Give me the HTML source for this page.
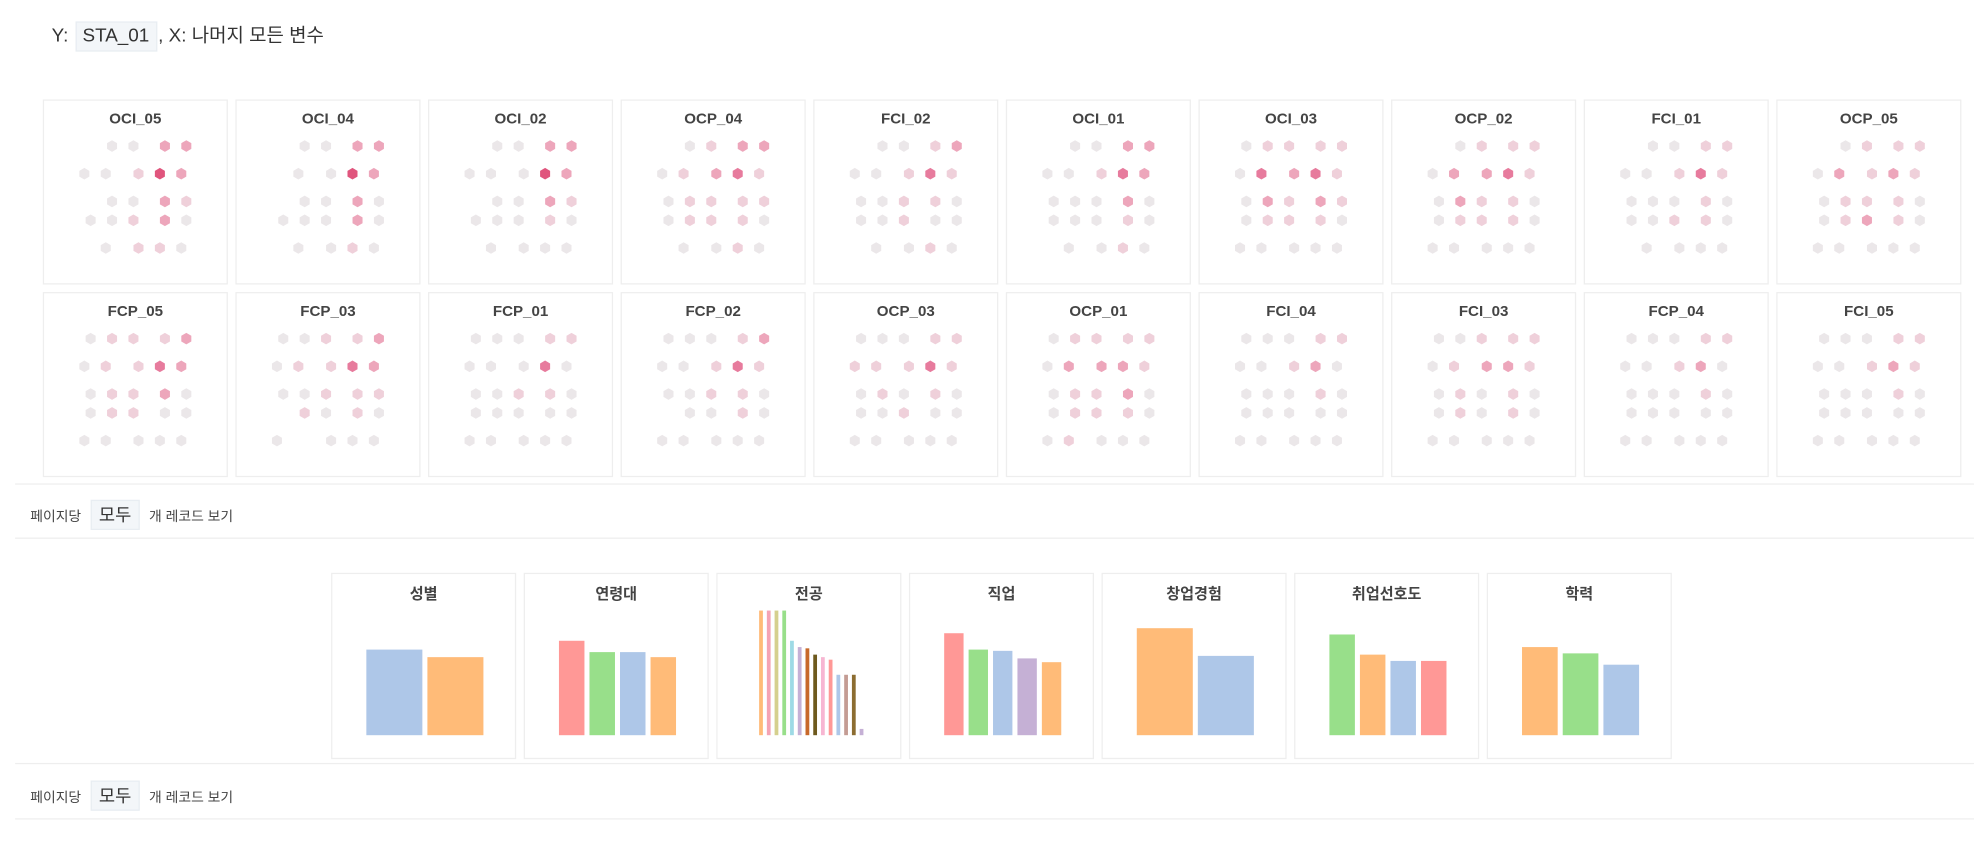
<!DOCTYPE html>
<html><head><meta charset="utf-8">
<style>
html,body{margin:0;padding:0;background:#fff;width:1974px;height:843px;overflow:hidden;}
#wrap{position:absolute;left:0;top:0;width:1568px;height:670px;transform:scale(1.2589);transform-origin:0 0;font-family:"Liberation Sans","Noto Sans CJK KR",sans-serif;color:#333;}
.hdr{position:absolute;left:41px;top:17px;font-size:15px;line-height:22px;white-space:nowrap;}
.tag{display:inline-block;background:#f3f6f9;border:1px solid #e8edf2;padding:0 5px;margin:0 1px;}
.panel{position:absolute;width:147px;height:147px;border:1px solid #eee;box-sizing:border-box;background:#fff;}
.ptitle{position:absolute;left:0;right:0;top:7px;text-align:center;font-size:12px;font-weight:bold;color:#444;}
.line{position:absolute;left:12px;right:0;height:1px;background:#eee;}
.pager{position:absolute;left:24px;font-size:11px;color:#444;white-space:nowrap;}
.pager .box{display:inline-block;background:#f3f6f9;border:1px solid #e8edf2;font-size:14px;padding:1px 6px;margin:0 4px;color:#333;}
svg{position:absolute;left:0;top:0;}
</style></head><body>
<div id="wrap">
<div class="hdr">Y: <span class="tag">STA_01</span>, X: 나머지 모든 변수</div>
<div id="hex"></div>
<div class="line" style="top:384px"></div>
<div class="pager" style="top:397px">페이지당 <span class="box">모두</span> 개 레코드 보기</div>
<div class="line" style="top:427px"></div>
<div id="bars"></div>
<div class="line" style="top:606px"></div>
<div class="pager" style="top:620px">페이지당 <span class="box">모두</span> 개 레코드 보기</div>
<div class="line" style="top:650px"></div>
</div>
<script>
// ---- hexbin data ----
const hexNames = ["OCI_05","OCI_04","OCI_02","OCP_04","FCI_02","OCI_01","OCI_03","OCP_02","FCI_01","OCP_05",
"FCP_05","FCP_03","FCP_01","FCP_02","OCP_03","OCP_01","FCI_04","FCI_03","FCP_04","FCI_05"];
const hexLevels = [
[[0,1,1,3,3],[1,1,2,5,3],[0,1,1,3,2],[1,1,2,3,1],[0,1,2,2,1]],
[[0,1,1,3,3],[0,1,1,5,3],[0,1,1,3,1],[1,1,1,3,1],[0,1,1,2,1]],
[[0,1,1,3,3],[1,1,1,5,3],[0,1,1,3,2],[1,1,1,2,1],[0,1,1,1,1]],
[[0,1,2,3,3],[1,2,3,4,2],[1,2,2,2,2],[1,2,2,2,1],[0,1,1,2,1]],
[[0,1,1,2,3],[1,1,2,4,2],[1,1,2,2,1],[1,1,2,1,1],[0,1,1,2,1]],
[[0,1,1,3,3],[1,1,2,4,3],[1,1,1,3,1],[1,1,1,2,1],[0,1,1,2,1]],
[[1,2,2,2,2],[1,4,3,4,2],[1,3,2,3,2],[1,2,2,2,1],[1,1,1,1,1]],
[[0,1,2,2,2],[1,3,3,4,2],[1,3,2,2,1],[1,2,2,2,1],[1,1,1,1,1]],
[[0,1,1,2,2],[1,1,2,4,2],[1,1,1,2,1],[1,1,2,2,1],[0,1,1,1,1]],
[[0,1,2,2,2],[1,3,2,3,2],[1,2,2,2,1],[1,2,3,2,1],[1,1,1,1,1]],
[[1,2,2,2,3],[1,2,2,4,3],[1,2,2,3,1],[1,2,2,1,1],[1,1,1,1,1]],
[[1,1,2,2,3],[1,2,2,4,3],[1,1,2,2,2],[0,2,1,2,1],[1,0,1,1,1]],
[[1,1,1,2,2],[1,1,1,4,1],[1,1,2,2,1],[1,1,1,1,1],[1,1,1,1,1]],
[[1,1,1,2,3],[1,1,2,4,2],[1,1,2,2,1],[0,1,1,2,1],[1,1,1,1,1]],
[[1,1,1,2,2],[2,2,2,4,2],[1,2,1,2,1],[1,1,2,1,1],[1,1,1,1,1]],
[[1,2,2,2,2],[1,3,3,3,2],[1,2,2,3,1],[1,2,2,2,1],[1,2,1,1,1]],
[[1,1,1,2,2],[1,1,2,3,1],[1,1,1,2,1],[1,1,1,1,1],[1,1,1,1,1]],
[[1,1,2,2,2],[1,2,3,3,2],[1,2,1,2,1],[1,2,1,2,1],[1,1,1,1,1]],
[[1,1,1,2,2],[1,1,2,3,1],[1,1,1,2,1],[1,1,1,1,1],[1,1,1,1,1]],
[[1,1,1,2,2],[1,1,2,3,2],[1,1,1,2,1],[1,1,1,1,1],[1,1,1,1,1]]
];
const levelColors = ["none","#ebe7e9","#efd0da","#eda6bb","#e77b9d","#e0557d"];
const rowY=[36,58,80,95,117];
const colsA=[37,54,71,96,113], colsB=[32,49,75,92,109];
const NS="http://www.w3.org/2000/svg";
function hexPath(cx,cy,r){let p=[];for(let i=0;i<6;i++){const a=Math.PI/3*i+Math.PI/6;p.push((cx+r*Math.cos(a)).toFixed(2)+","+(cy+r*Math.sin(a)).toFixed(2));}return p.join(" ");}
const hex=document.getElementById('hex');
hexNames.forEach((nm,i)=>{
  const d=document.createElement('div');d.className='panel';
  
  
  d.style.left=(34+(i%10)*153)+'px';d.style.top=(i<10?79:232)+'px';
  const t=document.createElement('div');t.className='ptitle';t.textContent=nm;
  
  
  d.appendChild(t);
  const s=document.createElementNS(NS,'svg');s.setAttribute('width',147);s.setAttribute('height',147);
  hexLevels[i].forEach((row,ri)=>{
    const cols=(ri===1||ri===4)?colsB:colsA;
    row.forEach((lv,ci)=>{
      if(!lv)return;
      const p=document.createElementNS(NS,'polygon');
      p.setAttribute('points',hexPath(cols[ci],rowY[ri],4.6));
      p.setAttribute('fill',levelColors[lv]);
      
      
      s.appendChild(p);
    });
  });
  d.appendChild(s);hex.appendChild(d);
});
// ---- bar chart data ----
const barTitles=["성별","연령대","전공","직업","창업경험","취업선호도","학력"];
const genderVals=[68,62];
const ageVals=[75,66,66,62];
const majorVals=[99,99,99,99,75,70,69,64,62,60,48,48,48,5];
const jobVals=[81,68,67,61,58];
const startupVals=[85,63];
const prefVals=[80,64,59,59];
const eduVals=[70,65,56];
const barSeries=[genderVals,ageVals,majorVals,jobVals,startupVals,prefVals,eduVals];
const barColors=[
["#aec7e8","#ffbb78"],
["#ff9896","#98df8a","#aec7e8","#ffbb78"],
["#ffbb78","#f4a3b4","#d5d08e","#98df8a","#9edae5","#c5b0d5","#c8692a","#6e5a1e","#f7b6d2","#ff9896","#aec7e8","#c49c94","#8c6d31","#c5b0d5"],
["#ff9896","#98df8a","#aec7e8","#c5b0d5","#ffbb78"],
["#ffbb78","#aec7e8"],
["#98df8a","#ffbb78","#aec7e8","#ff9896"],
["#ffbb78","#98df8a","#aec7e8"]
];
const bars=document.getElementById('bars');
const plotTop=28, plotBot=128, plotL=25, plotR=122, yMax=100;
function yScale(v){return plotBot-(v/yMax)*(plotBot-plotTop);}
barTitles.forEach((nm,i)=>{
  const d=document.createElement('div');d.className='panel';
  
  
  d.style.left=(263+i*153)+'px';d.style.top='455px';d.style.height='148px';
  const t=document.createElement('div');t.className='ptitle';t.textContent=nm;
  
  
  d.appendChild(t);
  const s=document.createElementNS(NS,'svg');s.setAttribute('width',147);s.setAttribute('height',148);
  const vals=barSeries[i];const n=vals.length;
  const thin=(n>8);
  const L=thin?plotL+8:plotL, R=thin?plotR-3:plotR;
  const step=(R-L)/n; const gap=4;
  vals.forEach((v,j)=>{
    const r=document.createElementNS(NS,'rect');
    const w=thin?3:step-gap;
    r.setAttribute('x',L+j*step+(thin?0:gap/2));
    r.setAttribute('y',yScale(v));
    r.setAttribute('width',w);
    r.setAttribute('height',plotBot-yScale(v));
    r.setAttribute('fill',barColors[i][j%barColors[i].length]);
    
    
    s.appendChild(r);
  });
  d.appendChild(s);bars.appendChild(d);
});
</script>
</body></html>
